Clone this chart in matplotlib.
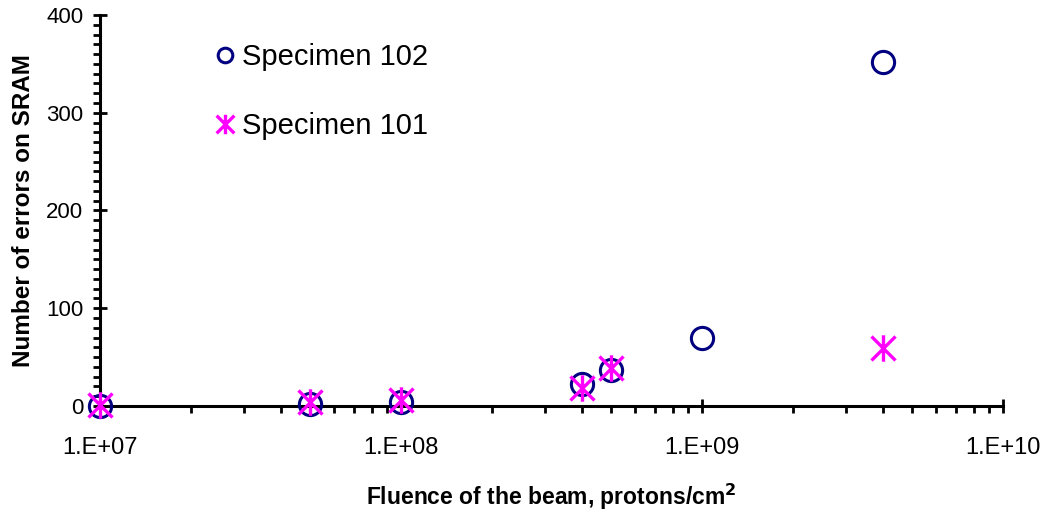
import matplotlib
matplotlib.use("Agg")
import matplotlib.pyplot as plt
from matplotlib.path import Path
from matplotlib.ticker import FixedLocator, LogLocator, NullFormatter, MultipleLocator

plt.rcParams['font.family'] = ['Liberation Sans', 'DejaVu Sans']

fluence_102 = [1e7, 5e7, 1e8, 4e8, 5e8, 1e9, 4e9]
errors_102 = [0, 2, 4, 23, 37, 70, 352]
fluence_101 = [1e7, 5e7, 1e8, 4e8, 5e8, 4e9]
errors_101 = [1, 4, 6, 18, 39, 59]
xtick_vals = [1e7, 1e8, 1e9, 1e10]
xtick_labels = ["1.E+07", "1.E+08", "1.E+09", "1.E+10"]
ytick_vals = [0, 100, 200, 300, 400]

star = Path([(-1, -1), (1, 1), (-1, 1), (1, -1), (0, -1.1), (0, 1.1)],
            [Path.MOVETO, Path.LINETO, Path.MOVETO, Path.LINETO, Path.MOVETO, Path.LINETO])

fig = plt.figure(figsize=(10.5, 5.18), dpi=100)
ax = fig.add_axes([100/1050, 1-406/518, 903/1050, 391/518])

ax.plot(fluence_102, errors_102, linestyle='none', marker='o', markersize=16,
        markerfacecolor='none', markeredgecolor='#000080', markeredgewidth=2.2,
        clip_on=False, zorder=3, label='Specimen 102')
ax.plot(fluence_101, errors_101, linestyle='none', marker=star, markersize=19,
        markerfacecolor='none', markeredgecolor='#FF00FF', markeredgewidth=2.4,
        clip_on=False, zorder=4, label='Specimen 101')

ax.set_xscale('log')
ax.set_xlim(1e7, 1e10)
ax.set_ylim(0, 400)
ax.spines['top'].set_visible(False)
ax.spines['right'].set_visible(False)
for s in ('left', 'bottom'):
    ax.spines[s].set_linewidth(2.2)

ax.xaxis.set_major_locator(FixedLocator(xtick_vals))
ax.set_xticklabels(xtick_labels)
ax.xaxis.set_minor_locator(LogLocator(base=10, subs=range(2, 10)))
ax.xaxis.set_minor_formatter(NullFormatter())
ax.yaxis.set_major_locator(FixedLocator(ytick_vals))
ax.yaxis.set_minor_locator(MultipleLocator(10))

ax.tick_params(axis='x', which='major', direction='inout', length=10, width=2, labelsize=17, pad=17)
ax.tick_params(axis='x', which='minor', direction='out', length=5, width=2)
ax.tick_params(axis='y', which='major', direction='inout', length=10, width=2, labelsize=16, pad=7)
ax.tick_params(axis='y', which='minor', direction='out', length=5, width=2)

ax.set_xlabel("Fluence of the beam, protons/cm$^\\mathbf{2}$", fontsize=16.5, fontweight='bold')
ax.xaxis.set_label_coords(0.5, -0.195)
ax.set_ylabel("Number of errors on SRAM", fontsize=17.5, fontweight='bold')
ax.yaxis.set_label_coords(-0.072, 0.5)

leg = ax.legend(loc='upper left', bbox_to_anchor=(0.101, 0.995), frameon=False,
                fontsize=21, handlelength=0.5, handletextpad=0.35,
                labelspacing=1.4, numpoints=1)
hs = leg.legend_handles
hs[0].set_markersize(10.5)
hs[1].set_markersize(14)

fig.savefig("out.png", dpi=100)
